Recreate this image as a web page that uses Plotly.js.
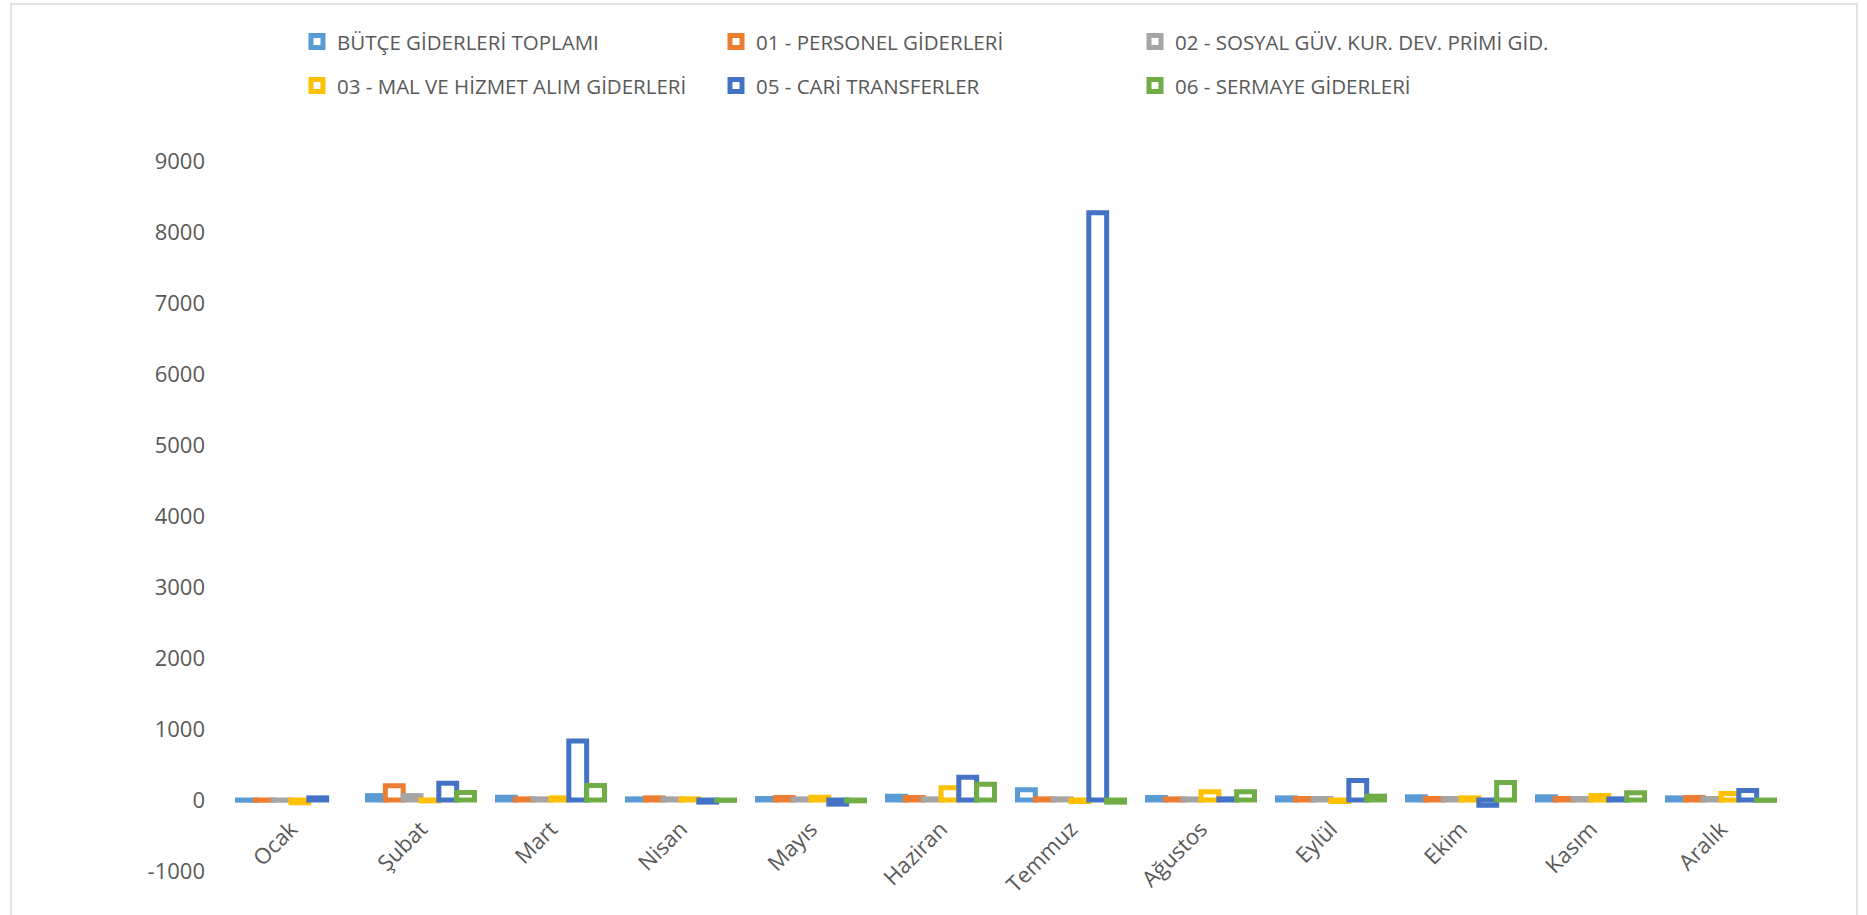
<!DOCTYPE html>
<html>
<head>
<meta charset="utf-8">
<script src="https://cdn.plot.ly/plotly-3.0.1.min.js"></script>
<style>
html,body{margin:0;padding:0;background:#fff;}
#chart{width:1867px;height:915px;}
</style>
</head>
<body>
<div id="chart"></div>
<script>
const months = ['Ocak','Şubat','Mart','Nisan','Mayıs','Haziran','Temmuz','Ağustos','Eylül','Ekim','Kasım','Aralık'];
const seriesNames = ['BÜTÇE GİDERLERİ TOPLAMI','01 - PERSONEL GİDERLERİ','02 - SOSYAL GÜV. KUR. DEV. PRİMİ GİD.','03 - MAL VE HİZMET ALIM GİDERLERİ','05 - CARİ TRANSFERLER','06 - SERMAYE GİDERLERİ'];
const butce    = [-3, 62, 39, 16, 21, 53, 145, 35, 30, 45, 45, 30];
const personel = [-3, 200, 16, 30, 35, 35, 16, 16, 21, 21, 21, 35];
const sosyal   = [-3, 62, 16, 16, 16, 16, 16, 16, 21, 21, 21, 21];
const mal      = [-39, -12, 30, 16, 39, 173, -21, 117, -21, 30, 63, 91];
const cari     = [30, 237, 830, -30, -58, 320, 8270, 16, 274, -73, 16, 134];
const sermaye  = [null, 104, 205, -5, -12, 223, -30, 117, 54, 246, 101, -5];
const yTicks   = [-1000, 0, 1000, 2000, 3000, 4000, 5000, 6000, 7000, 8000, 9000];

const seriesValues = [butce, personel, sosyal, mal, cari, sermaye];
const colors = ['#5B9BD5','#ED7D31','#A5A5A5','#FFC000','#4472C4','#70AD47'];
const FONT = '"Open Sans", "DejaVu Sans", sans-serif';
const TXT = '#595959';
const FS = 20.5;
const TFS = 22;

const traces = seriesValues.map((vals, i) => ({
  type: 'bar',
  name: seriesNames[i],
  x: months,
  y: vals,
  legend: i < 3 ? 'legend' : 'legend2',
  marker: {color: '#FFFFFF', line: {color: colors[i], width: 5}},
  hoverinfo: 'skip'
}));

// plot area geometry (px)
const L = 226, R = 81, T = 161, B = 44, W = 1867, H = 915;
const plotW = W - L - R, plotH = H - T - B;
const px2x = p => (p - L) / plotW;
const py2y = p => (H - B - p) / plotH;

const legendBase = {
  orientation: 'h', xanchor: 'left', yanchor: 'middle',
  entrywidth: 374, entrywidthmode: 'pixels',
  font: {family: FONT, size: FS, color: TXT},
  bgcolor: 'rgba(0,0,0,0)', borderwidth: 0, traceorder: 'normal'
};

const layout = {
  width: W, height: H, autosize: false,
  margin: {l: L, r: R, t: T, b: B, pad: 0},
  paper_bgcolor: '#FFFFFF', plot_bgcolor: '#FFFFFF',
  barmode: 'group', bargap: 0.177, bargroupgap: 0,
  font: {family: FONT, color: TXT, size: FS},
  showlegend: true,
  legend: Object.assign({}, legendBase, {x: px2x(297), y: py2y(41.7)}),
  legend2: Object.assign({}, legendBase, {x: px2x(297), y: py2y(85.7)}),
  xaxis: {
    type: 'category', anchor: 'free', position: 0.1,
    range: [-0.5, 11.5],
    showgrid: false, zeroline: false, showline: false, ticks: '',
    tickangle: -45, ticklabelstandoff: 11,
    tickfont: {family: FONT, size: TFS, color: TXT}
  },
  yaxis: {
    range: [-1000, 9000], tickmode: 'array', tickvals: yTicks,
    ticktext: yTicks.map(String),
    showgrid: false, zeroline: false, showline: false, ticks: '',
    ticklabelstandoff: 20,
    tickfont: {family: FONT, size: TFS, color: TXT}
  },
  shapes: [{
    type: 'rect', xref: 'paper', yref: 'paper', layer: 'below',
    x0: px2x(11), x1: px2x(1857), y0: py2y(930), y1: py2y(4),
    line: {color: '#D9D9D9', width: 1.5}, fillcolor: 'rgba(0,0,0,0)'
  }]
};

Plotly.newPlot('chart', traces, layout, {staticPlot: true, displayModeBar: false});
</script>
</body>
</html>
